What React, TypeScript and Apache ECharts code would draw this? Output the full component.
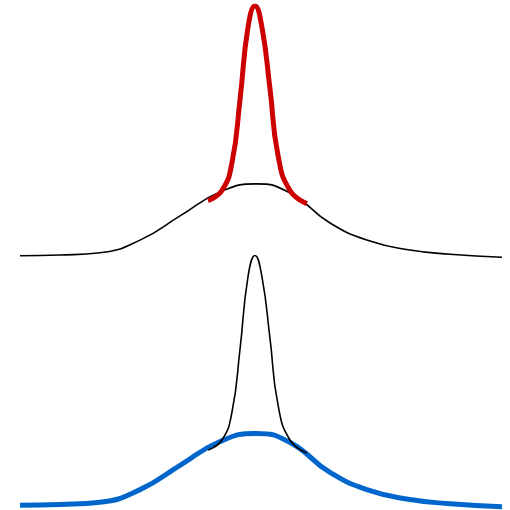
import React, { useEffect, useRef } from "react";
import * as echarts from "echarts";

// Broad, low distribution (x, density)
const broadX = [-3.0, -2.502, -2.004, -1.506, -1.008, -0.51, -0.062, 0.361, 0.859, 1.357, 1.855, 2.353, 3.0];
const broadY = [0.009, 0.012, 0.021, 0.071, 0.167, 0.262, 0.294, 0.258, 0.139, 0.067, 0.032, 0.015, 0.003];

// Narrow, tall distribution (x, density)
const narrowX = [-0.66, -0.486, -0.361, -0.261, -0.162, -0.075, 0.012, 0.112, 0.212, 0.361, 0.572];
const narrowY = [0.228, 0.268, 0.379, 0.629, 0.915, 1.0, 0.915, 0.671, 0.407, 0.268, 0.216];

const pairs = (xs: number[], ys: number[]) => xs.map((x, i) => [x, ys[i]]);

export default function App() {
  const ref = useRef<HTMLDivElement>(null);

  useEffect(() => {
    if (!ref.current) return;
    const chart = echarts.init(ref.current, undefined, { renderer: "svg" });
    const axisX = (gridIndex: number) => ({
      type: "value" as const,
      gridIndex,
      min: -3,
      max: 3,
      show: false,
    });
    const axisY = (gridIndex: number) => ({
      type: "value" as const,
      gridIndex,
      min: 0,
      max: 1,
      show: false,
    });
    const line = (
      data: number[][],
      idx: number,
      color: string,
      width: number,
      z: number
    ) => ({
      type: "line" as const,
      xAxisIndex: idx,
      yAxisIndex: idx,
      data,
      smooth: 0.5,
      showSymbol: false,
      symbol: "none",
      z,
      lineStyle: { color, width },
    });

    chart.setOption({
      animation: false,
      backgroundColor: "#ffffff",
      grid: [
        { left: 20, right: 8, top: 6, height: 252 },
        { left: 20, right: 8, top: 255.5, height: 252 },
      ],
      xAxis: [axisX(0), axisX(1)],
      yAxis: [axisY(0), axisY(1)],
      series: [
        line(pairs(broadX, broadY), 0, "#000000", 1.6, 2),
        line(pairs(narrowX, narrowY), 0, "#cc0000", 5, 3),
        line(pairs(broadX, broadY), 1, "#0066cc", 5, 2),
        line(pairs(narrowX, narrowY), 1, "#000000", 1.6, 3),
      ],
    });
    return () => chart.dispose();
  }, []);

  return (
    <div
      ref={ref}
      style={{ position: "fixed", left: 0, top: 0, width: 510, height: 510 }}
    />
  );
}
